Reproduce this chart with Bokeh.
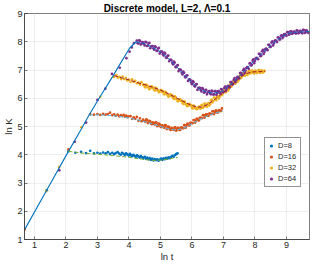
from bokeh.plotting import figure
from bokeh.models import Range1d, FixedTicker, Legend, LegendItem
from bokeh.embed import file_html
from bokeh.resources import INLINE

# ---------------- data ----------------
x_ticks = [1, 2, 3, 4, 5, 6, 7, 8, 9]
y_ticks = [1, 2, 3, 4, 5, 6, 7, 8, 9]
labels = ["D=8", "D=16", "D=32", "D=64"]

# common linear growth (fit, shared by all D)
rise_x = [0.69, 1.37, 2.08, 2.49, 2.69, 3.00, 3.50, 3.71, 4.02, 4.22]
rise_y = [1.35, 2.71, 4.12, 4.91, 5.32, 5.90, 6.80, 7.20, 7.77, 8.00]

# D=8 data points
d8_x = [1.39, 2.08, 2.30, 2.48, 2.64, 2.77, 2.89, 3.00, 3.09, 3.18, 3.26, 3.33, 3.40, 3.47,
        3.53, 3.58, 3.64, 3.69, 3.74, 3.78, 3.83, 3.87, 3.91, 3.95, 3.99, 4.03, 4.06, 4.10,
        4.14, 4.18, 4.22, 4.26, 4.30, 4.34, 4.38, 4.42, 4.46, 4.50, 4.54, 4.58, 4.62, 4.66,
        4.70, 4.74, 4.78, 4.82, 4.86, 4.90, 4.94, 4.98, 5.02, 5.06, 5.10, 5.14, 5.18, 5.22,
        5.26, 5.30, 5.34, 5.38, 5.42, 5.46, 5.50, 5.54]
d8_y = [2.74, 4.12, 4.07, 4.10, 4.06, 4.14, 4.05, 4.07, 4.04, 4.08, 4.05, 4.09, 4.03, 4.07,
        4.02, 4.06, 4.09, 4.04, 4.00, 4.07, 4.03, 3.99, 4.05, 4.01, 3.97, 4.03, 3.99, 3.95,
        4.00, 3.96, 3.92, 3.98, 3.94, 3.90, 3.95, 3.91, 3.88, 3.93, 3.86, 3.90, 3.84, 3.88,
        3.82, 3.86, 3.80, 3.85, 3.81, 3.84, 3.79, 3.83, 3.86, 3.82, 3.87, 3.84, 3.89, 3.86,
        3.91, 3.88, 3.93, 3.96, 3.93, 3.99, 4.02, 4.05]

# D=16 data points
d16_x = [0.69, 2.08, 2.77, 2.89, 3.00, 3.09, 3.18, 3.26, 3.33, 3.40, 3.47, 3.53, 3.58, 3.64,
         3.69, 3.74, 3.78, 3.83, 3.87, 3.91, 3.95, 3.99, 4.05, 4.10, 4.15, 4.20, 4.25, 4.30,
         4.35, 4.40, 4.45, 4.50, 4.55, 4.60, 4.65, 4.70, 4.75, 4.80, 4.85, 4.90, 4.95, 5.00,
         5.05, 5.10, 5.15, 5.20, 5.25, 5.30, 5.35, 5.40, 5.45, 5.50, 5.55, 5.60, 5.65, 5.70,
         5.75, 5.80, 5.85, 5.90, 5.95, 6.00, 6.05, 6.10, 6.15, 6.20, 6.25, 6.30, 6.35, 6.40,
         6.45, 6.50, 6.55, 6.60, 6.65, 6.70, 6.75, 6.80, 6.85, 6.90, 6.95]
d16_y = [1.36, 4.19, 5.43, 5.42, 5.44, 5.41, 5.45, 5.42, 5.44, 5.49, 5.40, 5.43, 5.38, 5.42,
         5.36, 5.40, 5.37, 5.41, 5.35, 5.39, 5.33, 5.36, 5.37, 5.27, 5.32, 5.27, 5.34, 5.20,
         5.29, 5.19, 5.24, 5.19, 5.25, 5.12, 5.20, 5.10, 5.15, 5.09, 5.15, 5.01, 5.10, 5.00,
         5.04, 4.98, 5.05, 4.91, 5.00, 4.90, 4.95, 4.90, 4.97, 4.85, 4.95, 4.88, 4.96, 4.94,
         5.05, 4.96, 5.09, 5.04, 5.13, 5.12, 5.23, 5.14, 5.27, 5.22, 5.31, 5.30, 5.40, 5.31,
         5.43, 5.38, 5.46, 5.44, 5.54, 5.44, 5.56, 5.50, 5.57, 5.55, 5.64]
d16_x2 = [4.525, 4.575, 4.625, 4.675, 4.725, 4.775, 4.825, 4.875, 4.925, 4.975, 5.025, 5.075,
          5.125, 5.175, 5.225, 5.275, 5.325, 5.375, 5.425, 5.475, 5.525, 5.575, 5.625, 5.675,
          5.725, 5.775, 5.825, 5.875, 5.925, 5.975, 6.025, 6.075, 6.125, 6.175, 6.225, 6.275,
          6.325, 6.375, 6.425, 6.475, 6.525, 6.575, 6.625, 6.675, 6.725, 6.775, 6.825, 6.875,
          6.925]
d16_y2 = [5.17, 5.23, 5.16, 5.18, 5.08, 5.13, 5.07, 5.13, 5.05, 5.08, 4.98, 5.02,
          4.96, 5.03, 4.95, 4.98, 4.88, 4.93, 4.88, 4.96, 4.90, 4.94, 4.88, 4.96,
          4.94, 5.05, 5.02, 5.09, 5.04, 5.13, 5.12, 5.23, 5.20, 5.27, 5.22, 5.31,
          5.30, 5.40, 5.37, 5.43, 5.38, 5.46, 5.44, 5.54, 5.50, 5.56, 5.50, 5.57,
          5.55]

# D=32 data points
d32_x = [1.37, 1.78, 2.49, 3.09, 3.53, 3.60, 3.65, 3.70, 3.75, 3.80, 3.85, 3.90, 3.95, 4.00,
         4.05, 4.10, 4.15, 4.20, 4.25, 4.30, 4.35, 4.40, 4.45, 4.50, 4.55, 4.60, 4.65, 4.70,
         4.75, 4.80, 4.85, 4.90, 4.95, 5.00, 5.05, 5.10, 5.15, 5.20, 5.25, 5.30, 5.35, 5.40,
         5.45, 5.50, 5.55, 5.60, 5.65, 5.70, 5.75, 5.80, 5.85, 5.90, 5.95, 6.00, 6.05, 6.10,
         6.15, 6.20, 6.25, 6.30, 6.35, 6.40, 6.45, 6.50, 6.55, 6.60, 6.65, 6.70, 6.75, 6.80,
         6.85, 6.90, 6.95, 7.00, 7.05, 7.10, 7.15, 7.20, 7.25, 7.30, 7.35, 7.40, 7.45, 7.50,
         7.55, 7.60, 7.65, 7.70, 7.75, 7.80, 7.85, 7.90, 7.95, 8.00, 8.05, 8.10, 8.15, 8.20,
         8.25, 8.30]
d32_y = [2.71, 3.57, 4.97, 6.05, 6.76, 6.82, 6.73, 6.76, 6.68, 6.77, 6.68, 6.72, 6.63, 6.66,
         6.58, 6.67, 6.58, 6.62, 6.53, 6.55, 6.48, 6.57, 6.47, 6.41, 6.48, 6.39, 6.32, 6.41,
         6.36, 6.30, 6.37, 6.28, 6.21, 6.29, 6.23, 6.17, 6.23, 6.14, 6.06, 6.13, 6.07, 6.01,
         6.07, 5.97, 5.89, 5.96, 5.90, 5.83, 5.89, 5.79, 5.72, 5.79, 5.74, 5.67, 5.74, 5.65,
         5.61, 5.68, 5.65, 5.75, 5.66, 5.81, 5.72, 5.81, 5.74, 5.92, 5.85, 6.02, 5.95, 6.05,
         5.99, 6.17, 6.11, 6.28, 6.22, 6.33, 6.27, 6.46, 6.41, 6.59, 6.53, 6.64, 6.58, 6.77,
         6.71, 6.87, 6.81, 6.90, 6.83, 6.96, 6.88, 6.98, 6.90, 6.97, 6.89, 6.99, 6.91, 6.99,
         6.91, 6.98]
d32_x2 = [4.475, 4.525, 4.575, 4.625, 4.675, 4.725, 4.775, 4.825, 4.875, 4.925, 4.975, 5.025,
          5.075, 5.125, 5.175, 5.225, 5.275, 5.325, 5.375, 5.425, 5.475, 5.525, 5.575, 5.625,
          5.675, 5.725, 5.775, 5.825, 5.875, 5.925, 5.975, 6.025, 6.075, 6.125, 6.175, 6.225,
          6.275, 6.325, 6.375, 6.425, 6.475, 6.525, 6.575, 6.625, 6.675, 6.725, 6.775, 6.825,
          6.875, 6.925, 6.975, 7.025, 7.075, 7.125, 7.175, 7.225, 7.275, 7.325, 7.375, 7.425,
          7.475, 7.525, 7.575, 7.625, 7.675, 7.725, 7.775, 7.825, 7.875, 7.925, 7.975, 8.025,
          8.075, 8.125, 8.175, 8.225, 8.275]
d32_y2 = [6.48, 6.38, 6.46, 6.38, 6.35, 6.42, 6.38, 6.27, 6.35, 6.27, 6.23, 6.29,
          6.25, 6.14, 6.21, 6.13, 6.07, 6.14, 6.09, 5.98, 6.05, 5.96, 5.91, 5.97,
          5.92, 5.80, 5.87, 5.78, 5.74, 5.80, 5.76, 5.64, 5.72, 5.65, 5.62, 5.70,
          5.64, 5.77, 5.70, 5.79, 5.70, 5.83, 5.79, 5.95, 5.90, 6.01, 5.93, 6.08,
          6.04, 6.21, 6.16, 6.28, 6.21, 6.36, 6.33, 6.50, 6.47, 6.59, 6.52, 6.67,
          6.64, 6.81, 6.76, 6.87, 6.80, 6.91, 6.85, 6.98, 6.91, 6.97, 6.88, 6.97,
          6.91, 7.00, 6.90, 6.97, 6.93]

# D=64 data points
d64_x = [1.79, 2.28, 2.64, 3.00, 3.25, 3.46, 3.71, 3.92, 4.02, 4.09, 4.16, 4.25, 4.30, 4.35,
         4.40, 4.45, 4.50, 4.55, 4.60, 4.65, 4.70, 4.75, 4.80, 4.85, 4.90, 4.95, 5.00, 5.05,
         5.10, 5.15, 5.20, 5.25, 5.30, 5.35, 5.40, 5.45, 5.50, 5.55, 5.60, 5.65, 5.70, 5.75,
         5.80, 5.85, 5.90, 5.95, 6.00, 6.05, 6.10, 6.15, 6.20, 6.25, 6.30, 6.35, 6.40, 6.45,
         6.50, 6.55, 6.60, 6.65, 6.70, 6.75, 6.80, 6.85, 6.90, 6.95, 7.00, 7.05, 7.10, 7.15,
         7.20, 7.25, 7.30, 7.35, 7.40, 7.45, 7.50, 7.55, 7.60, 7.65, 7.70, 7.75, 7.80, 7.85,
         7.90, 7.95, 8.00, 8.05, 8.10, 8.15, 8.20, 8.25, 8.30, 8.35, 8.40, 8.45, 8.50, 8.55,
         8.60, 8.65, 8.70, 8.75, 8.80, 8.85, 8.90, 8.95, 9.00, 9.05, 9.10, 9.15, 9.20, 9.25,
         9.30, 9.35, 9.40, 9.45, 9.50, 9.55, 9.60, 9.65, 9.70]
d64_y = [3.45, 4.46, 5.14, 5.94, 6.34, 6.86, 7.08, 7.42, 7.65, 7.80, 7.95, 8.04, 7.94, 8.03,
         7.94, 7.97, 7.87, 7.98, 7.86, 7.96, 7.83, 7.85, 7.72, 7.81, 7.68, 7.78, 7.64, 7.65,
         7.51, 7.58, 7.43, 7.51, 7.36, 7.35, 7.20, 7.26, 7.10, 7.17, 7.01, 7.00, 6.84, 6.90,
         6.74, 6.81, 6.66, 6.65, 6.50, 6.57, 6.42, 6.50, 6.36, 6.37, 6.24, 6.33, 6.21, 6.30,
         6.21, 6.25, 6.14, 6.24, 6.14, 6.25, 6.18, 6.25, 6.17, 6.31, 6.22, 6.41, 6.33, 6.44,
         6.38, 6.57, 6.50, 6.71, 6.64, 6.76, 6.70, 6.90, 6.84, 7.04, 6.98, 7.10, 7.04, 7.24,
         7.18, 7.38, 7.32, 7.43, 7.38, 7.57, 7.51, 7.71, 7.64, 7.76, 7.70, 7.89, 7.82, 8.01,
         7.94, 8.05, 7.99, 8.15, 8.09, 8.23, 8.18, 8.27, 8.21, 8.34, 8.27, 8.37, 8.30, 8.36,
         8.29, 8.39, 8.32, 8.38, 8.30, 8.41, 8.33, 8.39, 8.31]
d64_x2 = [4.275, 4.325, 4.375, 4.425, 4.475, 4.525, 4.575, 4.625, 4.675, 4.725, 4.775, 4.825,
          4.875, 4.925, 4.975, 5.025, 5.075, 5.125, 5.175, 5.225, 5.275, 5.325, 5.375, 5.425,
          5.475, 5.525, 5.575, 5.625, 5.675, 5.725, 5.775, 5.825, 5.875, 5.925, 5.975, 6.025,
          6.075, 6.125, 6.175, 6.225, 6.275, 6.325, 6.375, 6.425, 6.475, 6.525, 6.575, 6.625,
          6.675, 6.725, 6.775, 6.825, 6.875, 6.925, 6.975, 7.025, 7.075, 7.125, 7.175, 7.225,
          7.275, 7.325, 7.375, 7.425, 7.475, 7.525, 7.575, 7.625, 7.675, 7.725, 7.775, 7.825,
          7.875, 7.925, 7.975, 8.025, 8.075, 8.125, 8.175, 8.225, 8.275, 8.325, 8.375, 8.425,
          8.475, 8.525, 8.575, 8.625, 8.675, 8.725, 8.775, 8.825, 8.875, 8.925, 8.975, 9.025,
          9.075, 9.125, 9.175, 9.225, 9.275, 9.325, 9.375, 9.425, 9.475, 9.525, 9.575, 9.625,
          9.675]
d64_y2 = [7.95, 8.05, 7.90, 7.99, 7.92, 8.00, 7.85, 7.94, 7.77, 7.85, 7.77, 7.84,
          7.68, 7.76, 7.58, 7.65, 7.56, 7.62, 7.44, 7.50, 7.31, 7.36, 7.26, 7.30,
          7.11, 7.16, 6.96, 7.01, 6.90, 6.94, 6.75, 6.80, 6.61, 6.66, 6.56, 6.61,
          6.43, 6.49, 6.30, 6.37, 6.29, 6.36, 6.20, 6.29, 6.14, 6.24, 6.18, 6.27,
          6.13, 6.25, 6.12, 6.24, 6.20, 6.32, 6.22, 6.36, 6.26, 6.42, 6.42, 6.57,
          6.49, 6.65, 6.57, 6.73, 6.74, 6.89, 6.82, 6.99, 6.90, 7.07, 7.08, 7.23,
          7.16, 7.33, 7.24, 7.41, 7.41, 7.57, 7.49, 7.66, 7.57, 7.73, 7.74, 7.89,
          7.81, 7.97, 7.87, 8.03, 8.02, 8.15, 8.07, 8.21, 8.13, 8.26, 8.24, 8.34,
          8.25, 8.37, 8.28, 8.35, 8.31, 8.40, 8.30, 8.39, 8.33, 8.42, 8.31, 8.40,
          8.34]

# fitted curves after each saturation point
fit8_x = [2.08, 2.50, 3.00, 3.50, 4.00, 4.50, 4.75, 5.00, 5.25, 5.55]
fit8_y = [4.12, 4.06, 4.02, 3.97, 3.91, 3.83, 3.80, 3.81, 3.85, 3.91]
fit16_x = [2.74, 3.00, 3.25, 3.50, 3.75, 4.00, 4.25, 4.50, 4.75, 5.00, 5.25, 5.50, 5.75,
           6.00, 6.25, 6.50, 6.75, 6.97]
fit16_y = [5.40, 5.41, 5.40, 5.38, 5.35, 5.30, 5.24, 5.17, 5.09, 5.00, 4.92, 4.87, 4.95,
           5.10, 5.25, 5.38, 5.48, 5.55]
fit32_x = [3.53, 3.75, 4.00, 4.25, 4.50, 4.75, 5.00, 5.25, 5.50, 5.75, 6.00, 6.16, 6.30,
           6.50, 6.75, 7.00, 7.25, 7.50, 7.70, 7.90, 8.10, 8.33]
fit32_y = [6.80, 6.73, 6.65, 6.56, 6.48, 6.39, 6.29, 6.16, 6.02, 5.87, 5.74, 5.69, 5.69,
           5.78, 5.98, 6.20, 6.46, 6.71, 6.87, 6.93, 6.94, 6.95]
fit64_x = [4.22, 4.50, 4.75, 5.00, 5.25, 5.50, 5.75, 6.00, 6.25, 6.50, 6.70, 6.90, 7.00,
           7.25, 7.50, 7.75, 8.00, 8.25, 8.50, 8.75, 9.00, 9.10, 9.30, 9.50, 9.72]
fit64_y = [8.00, 7.93, 7.80, 7.64, 7.41, 7.13, 6.83, 6.55, 6.32, 6.21, 6.18, 6.23, 6.28,
           6.51, 6.78, 7.07, 7.35, 7.62, 7.88, 8.10, 8.27, 8.31, 8.34, 8.35, 8.36]

# ---------------- styling ----------------
C_D = ["#0072BD", "#D95319", "#EDB120", "#7E2F8E"]
C_FIT = ["#77AC30", "#4DBEEE", "#A2142F", "#0072BD"]
FONT = "Liberation Sans"
AX = "#262626"

p = figure(width=311, height=264, output_backend="svg", toolbar_location=None,
           x_range=Range1d(0.685, 9.73), y_range=Range1d(1, 9),
           min_border_left=0, min_border_right=2, min_border_top=0, min_border_bottom=0,
           x_axis_label="ln t", y_axis_label="ln K")
p.title.text = "Discrete model, L=2, \u039b=0.1"
p.title.align = "center"
p.title.text_font = FONT
p.title.text_font_size = "10px"
p.title.text_font_style = "bold"
p.title.text_color = "#000000"
p.title.standoff = 0
p.title.offset = 0
p.outline_line_color = AX
p.outline_line_width = 0.6
p.background_fill_color = "white"
p.border_fill_color = "white"

for ax in (p.xaxis[0], p.yaxis[0]):
    ax.major_label_text_font = FONT
    ax.major_label_text_font_size = "9px"
    ax.major_label_text_color = AX
    ax.axis_label_text_font = FONT
    ax.axis_label_text_font_size = "9.5px"
    ax.axis_label_text_font_style = "normal"
    ax.axis_label_text_color = AX
    ax.axis_line_color = AX
    ax.axis_line_width = 0.6
    ax.major_tick_in = 3
    ax.major_tick_out = 0
    ax.major_tick_line_color = AX
    ax.major_tick_line_width = 0.6
    ax.minor_tick_line_color = None
    ax.major_label_standoff = 2
    ax.axis_label_standoff = 0
p.xaxis[0].ticker = FixedTicker(ticks=x_ticks)
p.yaxis[0].ticker = FixedTicker(ticks=y_ticks)

p.xgrid.ticker = FixedTicker(ticks=x_ticks)
p.ygrid.ticker = FixedTicker(ticks=y_ticks)
for g in (p.xgrid[0], p.ygrid[0]):
    g.grid_line_color = "#e3e3e3"
    g.grid_line_width = 0.6

# scatter data
series = [(d8_x, d8_y), (d16_x + d16_x2, d16_y + d16_y2),
          (d32_x + d32_x2, d32_y + d32_y2), (d64_x + d64_x2, d64_y + d64_y2)]
rends = []
for (xs, ys), c in zip(series, C_D):
    r = p.scatter(xs, ys, marker="circle", size=2.7, fill_color=c, line_color=None)
    rends.append(r)

# fitted lines
p.line(rise_x, rise_y, line_color=C_FIT[3], line_width=1.1)
fits = [(fit8_x, fit8_y), (fit16_x, fit16_y), (fit32_x, fit32_y), (fit64_x, fit64_y)]
for (xs, ys), c in zip(fits, C_FIT):
    p.line(xs, ys, line_color=c, line_width=1.0, line_dash="4 2")

legend = Legend(items=[LegendItem(label=l, renderers=[r]) for l, r in zip(labels, rends)],
                location=(240, 52))
legend.label_text_font = FONT
legend.label_text_font_size = "7.5px"
legend.label_text_color = AX
legend.label_height = 11
legend.glyph_height = 11
legend.glyph_width = 8
legend.label_standoff = 3
legend.spacing = 0
legend.padding = 2
legend.margin = 0
legend.border_line_color = AX
legend.border_line_width = 0.6
legend.background_fill_color = "white"
legend.background_fill_alpha = 1
p.add_layout(legend)

open("out.html", "w").write(file_html(p, INLINE))
